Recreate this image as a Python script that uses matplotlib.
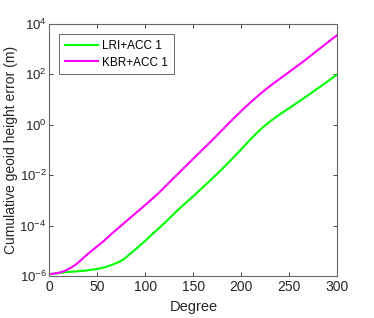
import matplotlib
matplotlib.use('Agg')
import matplotlib.pyplot as plt
import numpy as np

plt.rcParams['font.family'] = ['Liberation Sans', 'DejaVu Sans']
plt.rcParams['mathtext.fontset'] = 'custom'
plt.rcParams['mathtext.rm'] = 'Liberation Sans'
plt.rcParams['mathtext.default'] = 'regular'

# degree and log10 of cumulative error
deg_lri = [2, 16, 37, 50, 58, 65, 72, 77, 88, 100, 110, 120, 132, 140, 150, 160,
           170, 178, 190, 200, 208, 216, 224, 232, 240, 250, 260, 270, 280, 290, 300]
lri_log = [-5.92, -5.85, -5.79, -5.72, -5.65, -5.56, -5.45, -5.35, -5.00, -4.60,
           -4.24, -3.90, -3.45, -3.17, -2.83, -2.48, -2.12, -1.83, -1.37, -0.97,
           -0.64, -0.33, -0.05, 0.19, 0.41, 0.66, 0.92, 1.18, 1.45, 1.72, 2.00]
deg_kbr = [2, 10, 16, 22, 27, 32, 37, 43, 50, 57, 65, 77, 88, 100, 113, 127,
           140, 156, 170, 188, 203, 212, 219, 227, 235, 250, 265, 280, 300]
kbr_log = [-5.92, -5.87, -5.80, -5.68, -5.56, -5.40, -5.23, -5.03, -4.82, -4.60,
           -4.32, -3.93, -3.57, -3.18, -2.74, -2.21, -1.72, -1.12, -0.60, 0.10,
           0.66, 0.97, 1.20, 1.45, 1.68, 2.10, 2.52, 2.97, 3.56]

labels = ['LRI+ACC 1', 'KBR+ACC 1']
yticks = [1e-6, 1e-4, 1e-2, 1e0, 1e2, 1e4]
ytick_labels = ['$10^{-6}$', '$10^{-4}$', '$10^{-2}$', '$10^{0}$', '$10^{2}$', '$10^{4}$']
xticks = [0, 50, 100, 150, 200, 250, 300]

fig = plt.figure(figsize=(3.74, 3.18), dpi=100)
ax = fig.add_axes([0.132, 0.132, 0.770, 0.793])

ax.semilogy(deg_lri, 10 ** np.array(lri_log), color='#00ff00', lw=1.5, label=labels[0])
ax.semilogy(deg_kbr, 10 ** np.array(kbr_log), color='#ff00ff', lw=1.5, label=labels[1])

ax.set_xlim(0, 300)
ax.set_ylim(1e-6, 1e4)
ax.set_xticks(xticks)
ax.set_yticks(yticks)
ax.set_yticklabels(ytick_labels)
ax.yaxis.set_minor_locator(matplotlib.ticker.NullLocator())
ax.tick_params(direction='in', top=True, right=True, length=3, width=0.6,
               colors='#262626', labelsize=10, pad=3)
ax.tick_params(axis='y', labelsize=9.5, pad=2)
for s in ax.spines.values():
    s.set_color('#666666')
    s.set_linewidth(0.8)

ax.set_xlabel('Degree', fontsize=10.5, color='#262626')
ax.set_ylabel('Cumulative geoid height error (m)', fontsize=10, color='#262626')
ax.yaxis.set_label_coords(-0.11, 0.5)

leg = ax.legend(loc='upper left', fontsize=8.5, frameon=True, fancybox=False,
                edgecolor='#262626', handlelength=2.8, borderaxespad=0.85,
                handletextpad=0.35, labelspacing=0.4, borderpad=0.5)
leg.get_frame().set_linewidth(0.6)

fig.savefig('out.png', dpi=100)
